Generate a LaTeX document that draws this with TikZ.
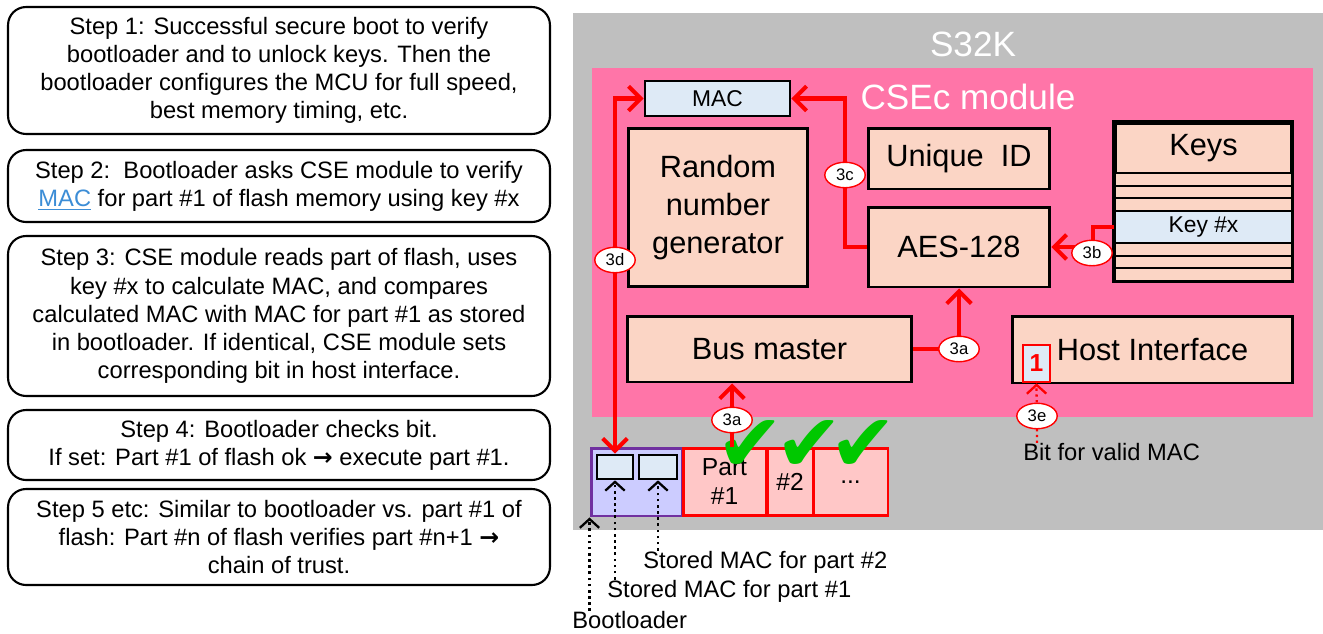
\documentclass[tikz,border=0pt]{standalone}
\usepackage{fontspec}
\setmainfont{Liberation Sans}
\newfontfamily\symfont{DejaVu Sans}
\usetikzlibrary{arrows.meta,shapes.geometric}

\definecolor{chipgray}{HTML}{BFBFBF}
\definecolor{csepink}{HTML}{FF75A8}
\definecolor{peach}{HTML}{FBD5C5}
\definecolor{paleblue}{HTML}{DEEAF6}
\definecolor{bootfill}{HTML}{CCCCFF}
\definecolor{bootedge}{HTML}{7030A0}
\definecolor{partfill}{HTML}{FFC7C7}
\definecolor{linkblue}{HTML}{3C8DD6}
\definecolor{okgreen}{HTML}{00C800}

\tikzset{stepbox/.style = {shape = rectangle,
                           rounded corners = 0.36cm,
                           draw,
                           line width = 1.2pt,
                           minimum width = 10.84cm,
                           align = center,
                           font = \fontsize{13.5}{16}\selectfont},
         area/.style = {shape = rectangle,
                        inner sep = 0pt},
         block/.style = {shape = rectangle,
                         draw,
                         fill = peach,
                         line width = 1.7pt,
                         align = center,
                         font = \fontsize{17.5}{21.5}\selectfont},
         slot/.style = {shape = rectangle,
                        draw,
                        fill = paleblue,
                        line width = 1.5pt,
                        inner sep = 0pt},
         part/.style = {shape = rectangle,
                        draw = red,
                        fill = partfill,
                        line width = 1.7pt,
                        align = center,
                        minimum height = 1.34cm,
                        font = \fontsize{14}{16.5}\selectfont},
         tag/.style = {shape = ellipse,
                       draw = red,
                       fill = white,
                       line width = 0.8pt,
                       inner sep = 0pt,
                       minimum width = 23pt,
                       minimum height = 14.5pt,
                       font = \fontsize{9.5}{10}\selectfont},
         label/.style = {anchor = west,
                         inner sep = 0pt,
                         font = \fontsize{13.5}{16}\selectfont},
         okmark/.style = {text = okgreen,
                          inner sep = 0pt,
                          font = \symfont\fontsize{46}{46}\selectfont},
         redline/.style = {draw = red,
                           line width = 2.3pt},
         redarrow/.style = {redline,
                            -{Straight Barb[length=7pt,width=14pt]}},
         blackdot/.style = {draw = black,
                            dotted,
                            line width = 1.5pt,
                            -{Straight Barb[length=5pt,width=11pt,line width=1.3pt]}},
         reddot/.style = {draw = red,
                          dotted,
                          line width = 1.3pt,
                          -{Straight Barb[length=5pt,width=11pt,line width=1.3pt]}}}

\begin{document}
\begin{tikzpicture}[x=0.02cm, y=-0.02cm]
    \useasboundingbox (0,0) rectangle (1323,633);

    \node[stepbox, minimum height = 2.54cm] (s1) at (279,70.5)
        {Step 1: Successful secure boot to verify\\ bootloader and to unlock keys. Then the\\ bootloader configures the MCU for full speed,\\ best memory timing, etc.};
    \node[stepbox, minimum height = 1.44cm] (s2) at (279,186)
        {Step 2:\ \ Bootloader asks CSE module to verify\\ {\color{linkblue}\underline{MAC}} for part \#1 of flash memory using key \#x};
    \node[stepbox, minimum height = 3.2cm] (s3) at (279,316)
        {Step 3: CSE module reads part of flash, uses\\ key \#x to calculate MAC, and compares\\ calculated MAC with MAC for part \#1 as stored\\ in bootloader. If identical, CSE module sets\\ corresponding bit in host interface.};
    \node[stepbox, minimum height = 1.4cm] (s4) at (279,445)
        {Step 4: Bootloader checks bit.\\ If set: Part \#1 of flash ok {\symfont\bfseries →} execute part \#1.};
    \node[stepbox, minimum height = 1.92cm] (s5) at (279,537)
        {Step 5 etc: Similar to bootloader vs. part \#1 of\\ flash: Part \#n of flash verifies part \#n+1 {\symfont\bfseries →}\\ chain of trust.};

    \node[area, fill = chipgray, minimum width = 15cm, minimum height = 10.34cm] (chip) at (948,271.5) {};
    \node[area, fill = csepink, minimum width = 14.42cm, minimum height = 6.98cm] (cse) at (952.5,242.5) {};
    \node[text = white, font = \fontsize{20}{24}\selectfont] (chipname) at (973,44) {S32K};
    \node[text = white, font = \fontsize{20}{24}\selectfont] (csename) at (968,97) {CSEc module};

    \node[slot, minimum width = 2.9cm, minimum height = 0.7cm, font = \fontsize{13}{15}\selectfont] (mac) at (717.5,98.5) {MAC};
    \node[block, minimum width = 3.6cm, minimum height = 3.18cm] (rng) at (718,207.5) {Random\\ number\\ generator};
    \node[block, minimum width = 3.64cm, minimum height = 1.22cm] (uid) at (959,158.5) {Unique\ \ ID};
    \node[block, minimum width = 3.64cm, minimum height = 1.6cm] (aes) at (959,247) {AES-128};
    \node[block, minimum width = 5.7cm, minimum height = 1.32cm] (bus) at (769.5,349) {Bus master};
    \node[block, minimum width = 5.62cm, minimum height = 1.34cm] (host) at (1152.5,349.5) {Host Interface};

    \foreach \y in {173,185.67,198.33,243,255.67,268.33}
        \draw[fill = peach, line width = 1pt] (1115,\y) rectangle ++(177,12.67);
    \node[block, minimum width = 3.54cm, minimum height = 1cm] (keys) at (1203.5,148) {Keys};
    \node[slot, line width = 1pt, minimum width = 3.54cm, minimum height = 0.64cm, font = \fontsize{13}{15}\selectfont] (keyx) at (1203.5,227) {Key \#x};
    \coordinate (keysend) at (1292,281);
    \draw[line width = 1.7pt] (keys.north west) rectangle (keysend);

    \node[slot, draw = red, minimum width = 0.54cm, minimum height = 0.74cm, text = red, font = \bfseries\fontsize{14}{16}\selectfont] (bit1) at (1036.5,363.5) {1};

    \node[area, draw = bootedge, fill = bootfill, line width = 1.7pt, minimum width = 1.82cm, minimum height = 1.36cm] (boot) at (636.5,482) {};
    \node[slot, minimum width = 0.72cm, minimum height = 0.48cm] (mac1) at (615,467) {};
    \node[slot, minimum width = 0.76cm, minimum height = 0.48cm] (mac2) at (658,467) {};
    \node[part, minimum width = 1.66cm] (part1) at (724.5,482) {Part\\ \#1};
    \node[part, minimum width = 0.92cm] (part2) at (790,482) {\#2};
    \node[part, minimum width = 1.5cm] (part3) at (850.5,482) {...};
    \node[okmark] (ok1) at (750,446) {✔};
    \node[okmark] (ok2) at (809,446) {✔};
    \node[okmark] (ok3) at (863,446) {✔};

    \node[label] (bitlbl) at (1023,452) {Bit for valid MAC};
    \node[label] (lbltwo) at (643,562) {Stored MAC for part \#2};
    \node[label] (lblone) at (607,591) {Stored MAC for part \#1};
    \node[label] (lblboot) at (572,620) {Bootloader};

    \coordinate (p3a) at (959,349);
    \coordinate (p3abot) at (732,420);
    \coordinate (p3b) at (1093,247);
    \coordinate (p3c) at (845,175);
    \coordinate (p3d) at (615,260);
    \coordinate (p3e) at (1037,416);

    \draw[redarrow] (aes.west) -| (p3c) |- (mac.east);
    \draw[redline, {Straight Barb[length=7pt,width=14pt]}-{Straight Barb[length=7pt,width=14pt]}] (mac.west) -| (mac1.north);
    \draw[redarrow] (keyx.west) -| (p3b) -- (aes.east);
    \draw[redarrow] (bus.east) -| (aes.south);
    \draw[redarrow] (p3abot |- part1.north) -- (p3abot |- bus.south);
    \draw[reddot] (p3e |- bitlbl.north) -- (bit1.south);

    \draw[blackdot] (lblone.north -| mac1) -- (mac1.south);
    \draw[blackdot] (lbltwo.north -| mac2) -- (mac2.south);
    \draw[blackdot] (lblboot.north -| boot.south west) -- (boot.south west);

    \node[tag] at (p3a) {3a};
    \node[tag] at (p3abot) {3a};
    \node[tag] at (1092,253) {3b};
    \node[tag] at (p3c) {3c};
    \node[tag] at (p3d) {3d};
    \node[tag] at (p3e) {3e};
\end{tikzpicture}
\end{document}
